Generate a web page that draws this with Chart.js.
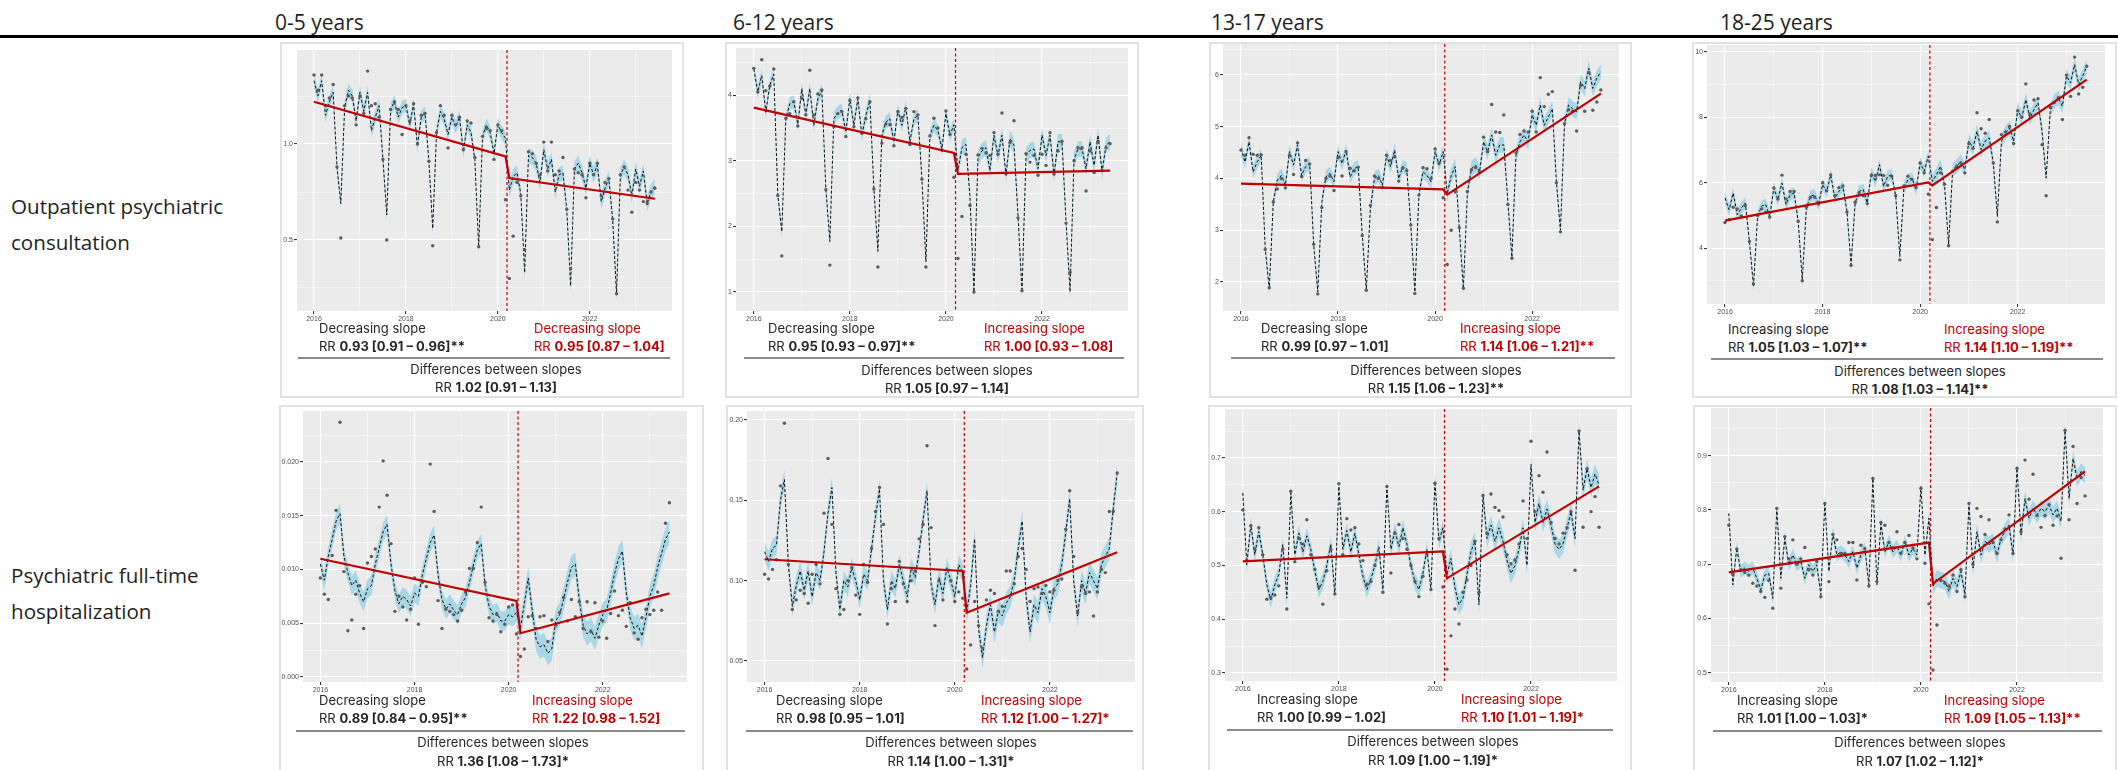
<!DOCTYPE html>
<html>
<head>
<meta charset="utf-8">
<script src="https://cdn.jsdelivr.net/npm/chart.js@4.4.1/dist/chart.umd.min.js"></script>
<style>
  body { margin: 0; background: #fff; width: 2118px; height: 770px; position: relative; overflow: hidden; font-family: "Open Sans", sans-serif; }
  .hdr { position: absolute; top: 8px; font-size: 21px; color: #1f1f1f; white-space: nowrap; }
  .rule { position: absolute; left: 0; top: 35px; width: 2118px; height: 3px; background: #000; }
  .rowlab { position: absolute; left: 11px; font-size: 20.6px; line-height: 36px; color: #1f1f1f; }
  .box { position: absolute; border: 2px solid #e2e2e2; box-sizing: border-box; }
  canvas { position: absolute; }
  .t { position: absolute; font-family: Inter, sans-serif; font-size: 13px; line-height: 18px; color: #262626; white-space: nowrap; }
  .t.red { color: #c00000; }
  .t.mid { transform: translateX(-50%); }
  .sep { position: absolute; height: 2px; background: #8a8a8a; }
</style>
</head>
<body>
<div class="hdr" style="left:275px">0-5 years</div>
<div class="hdr" style="left:733px">6-12 years</div>
<div class="hdr" style="left:1211px">13-17 years</div>
<div class="hdr" style="left:1720px">18-25 years</div>
<div class="rule"></div>
<div class="rowlab" style="top:188px">Outpatient psychiatric<br>consultation</div>
<div class="rowlab" style="top:557px">Psychiatric full-time<br>hospitalization</div>

<script>
// time axis: monthly rates, Jan 2016 - Jun 2023
var nMonths = 90;
var monthX = [];
for (var i = 0; i < nMonths; i++) monthX.push(2016 + i / 12);
var breakIndex = 51; // Apr 2020, first month of the post period
var interruptionX = 2020.2;
var trendX = [2016, 2020 + 2 / 12, 2020 + 3 / 12, 2023 + 5 / 12];
var xMajor = [2016, 2018, 2020, 2022];
var xMinor = [2017, 2019, 2021, 2023];
var xMin = 2015.63, xMax = 2023.79;

// ---------------- outpatient consultation, 0-5 years
var op05Fit = [
  1.33, 1.25, 1.33, 1.15, 1.22, 1.27, 0.88, 0.69, 1.19, 1.28, 1.25, 1.12,
  1.27, 1.17, 1.27, 1.07, 1.14, 1.20, 0.92, 0.63, 1.18, 1.22, 1.14, 1.19,
  1.20, 1.10, 1.21, 0.99, 1.14, 1.16, 0.91, 0.56, 1.06, 1.17, 1.13, 1.05,
  1.14, 1.09, 1.14, 0.96, 1.10, 1.06, 0.92, 0.46, 1.04, 1.10, 1.06, 0.95,
  1.10, 1.06, 1.03, 0.76, 0.83, 0.85, 0.74, 0.33, 0.94, 0.93, 0.90, 0.80,
  0.97, 0.87, 0.92, 0.75, 0.84, 0.85, 0.66, 0.26, 0.87, 0.90, 0.85, 0.77,
  0.90, 0.84, 0.89, 0.70, 0.77, 0.82, 0.60, 0.22, 0.84, 0.88, 0.84, 0.73,
  0.87, 0.78, 0.86, 0.69, 0.75, 0.78
];
var op05Obs = [
  1.36, 1.28, 1.36, 1.20, 1.24, 1.31, 0.88, 0.51, 1.20, 1.25, 1.24, 1.10,
  1.25, 1.16, 1.38, 1.20, 1.21, 1.14, 0.92, 0.50, 1.18, 1.22, 1.18, 1.05,
  1.20, 1.12, 1.21, 1.00, 1.15, 1.16, 0.91, 0.47, 1.06, 1.20, 1.15, 0.98,
  1.15, 1.10, 1.14, 0.97, 1.12, 1.11, 0.93, 0.465, 1.04, 1.08, 1.07, 0.92,
  1.10, 1.07, 0.71, 0.30, 0.52, 0.80, 0.73, 0.45, 0.96, 0.95, 0.90, 0.84,
  1.01, 0.86, 1.01, 0.84, 0.86, 0.93, 0.66, 0.35, 0.87, 0.85, 0.84, 0.72,
  0.90, 0.84, 0.90, 0.73, 0.80, 0.82, 0.61, 0.22, 0.84, 0.88, 0.76, 0.645,
  0.80, 0.76, 0.70, 0.69, 0.75, 0.77
];
var op05Ci = [0.035, 0.04];
var op05Trend = [1.22, 0.936, 0.823, 0.715];
var op05YRange = [0.13, 1.49];
var op05YMajor = [0.5, 1.0];
var op05YMinor = [0.25, 0.75, 1.25];
var op05YLabels = ["0.5", "1.0"];
var op05Notes = ["Decreasing slope", "0.93 [0.91 \u2013 0.96]**", "Decreasing slope", "0.95 [0.87 \u2013 1.04]", "1.02 [0.91 \u2013 1.13]"];

// ---------------- outpatient consultation, 6-12 years
var op612Fit = [
  4.40, 4.05, 4.30, 3.74, 4.15, 4.32, 2.48, 1.92, 3.64, 3.87, 3.90, 3.56,
  4.10, 3.70, 4.10, 3.54, 3.95, 4.07, 2.58, 1.77, 3.64, 3.74, 3.77, 3.44,
  3.95, 3.54, 3.95, 3.39, 3.69, 3.92, 2.58, 1.62, 3.39, 3.59, 3.64, 3.29,
  3.77, 3.54, 3.82, 3.29, 3.64, 3.69, 2.73, 1.46, 3.39, 3.54, 3.46, 3.18,
  3.72, 3.39, 3.55, 2.85, 3.20, 3.25, 2.45, 1.00, 3.05, 3.15, 3.20, 2.85,
  3.39, 3.08, 3.39, 2.78, 3.34, 3.24, 2.17, 1.00, 3.08, 3.16, 3.18, 2.88,
  3.39, 3.08, 3.39, 2.78, 3.29, 3.29, 2.07, 1.00, 3.03, 3.18, 3.18, 2.88,
  3.29, 2.93, 3.39, 2.83, 3.24, 3.29
];
var op612Obs = [
  4.41, 4.05, 4.54, 4.07, 4.14, 4.40, 2.47, 1.55, 3.65, 3.72, 3.90, 3.53,
  3.95, 3.70, 4.38, 3.70, 4.02, 4.08, 2.56, 1.41, 3.52, 3.72, 3.75, 3.37,
  3.92, 3.52, 3.96, 3.42, 3.64, 3.90, 2.57, 1.38, 3.27, 3.56, 3.55, 3.23,
  3.75, 3.66, 3.80, 3.25, 3.75, 3.70, 2.72, 1.38, 3.38, 3.65, 3.50, 3.16,
  3.76, 3.40, 2.75, 1.51, 2.15, 3.10, 2.32, 1.00, 3.09, 3.19, 3.12, 3.08,
  3.43, 3.10, 3.73, 2.80, 3.28, 3.61, 2.13, 1.02, 3.11, 2.98, 3.08, 2.78,
  3.10, 2.93, 3.43, 2.80, 3.15, 3.30, 2.05, 1.30, 3.00, 3.20, 3.20, 2.54,
  3.15, 2.82, 3.30, 2.85, 3.20, 3.26
];
var op612Ci = [0.1, 0.12];
var op612Trend = [3.81, 3.12, 2.80, 2.85];
var op612YRange = [0.71, 4.72];
var op612YMajor = [1, 2, 3, 4];
var op612YMinor = [1.5, 2.5, 3.5, 4.5];
var op612YLabels = ["1", "2", "3", "4"];
var op612Notes = ["Decreasing slope", "0.95 [0.93 \u2013 0.97]**", "Increasing slope", "1.00 [0.93 \u2013 1.08]", "1.05 [0.97 \u2013 1.14]"];

// ---------------- outpatient consultation, 13-17 years
var op1317Fit = [
  4.58, 4.32, 4.71, 4.13, 4.32, 4.45, 2.65, 1.87, 3.55, 3.97, 4.06, 3.87,
  4.52, 4.26, 4.65, 4.06, 4.23, 4.29, 2.71, 1.81, 3.55, 4.03, 4.10, 3.94,
  4.52, 4.29, 4.55, 4.03, 4.19, 4.23, 2.90, 1.84, 3.42, 4.00, 4.06, 3.87,
  4.45, 4.23, 4.55, 4.00, 4.23, 4.19, 3.10, 1.81, 3.68, 4.13, 4.06, 3.94,
  4.52, 4.26, 4.52, 3.70, 4.06, 4.23, 3.03, 1.87, 3.74, 4.19, 4.26, 4.13,
  4.71, 4.52, 4.84, 4.45, 4.65, 4.65, 3.55, 2.48, 4.45, 4.71, 4.84, 4.71,
  5.23, 5.03, 5.42, 5.03, 5.19, 5.35, 3.94, 3.00, 5.06, 5.42, 5.35, 5.29,
  5.87, 5.74, 6.13, 5.74, 5.94, 6.06
];
var op1317Obs = [
  4.55, 4.45, 4.79, 4.47, 4.45, 4.46, 2.63, 1.89, 3.55, 3.80, 4.00, 3.82,
  4.45, 4.08, 4.69, 4.04, 4.35, 4.28, 2.73, 1.77, 3.44, 4.00, 4.05, 3.77,
  4.40, 4.05, 4.52, 4.20, 4.15, 4.22, 2.90, 1.84, 3.48, 4.05, 4.00, 3.83,
  4.45, 4.35, 4.42, 3.95, 4.20, 4.15, 3.10, 1.78, 3.68, 4.21, 4.19, 4.00,
  4.57, 4.30, 3.63, 2.34, 3.00, 3.74, 3.05, 1.88, 3.75, 4.17, 4.21, 4.13,
  4.80, 4.52, 5.43, 4.90, 4.89, 5.23, 3.50, 2.46, 4.50, 4.85, 4.92, 4.90,
  5.30, 4.90, 5.95, 5.39, 5.63, 5.68, 3.92, 2.97, 5.06, 5.33, 5.30, 4.92,
  5.80, 5.30, 6.05, 5.32, 5.48, 5.71
];
var op1317Ci = [0.13, 0.15];
var op1317Trend = [3.90, 3.79, 3.69, 5.64];
var op1317YRange = [1.44, 6.6];
var op1317YMajor = [2, 3, 4, 5, 6];
var op1317YMinor = [2.5, 3.5, 4.5, 5.5, 6.5];
var op1317YLabels = ["2", "3", "4", "5", "6"];
var op1317Notes = ["Decreasing slope", "0.99 [0.97 \u2013 1.01]", "Increasing slope", "1.14 [1.06 \u2013 1.21]**", "1.15 [1.06 \u2013 1.23]**"];

// ---------------- outpatient consultation, 18-25 years
var op1825Fit = [
  5.53, 5.17, 5.68, 5.02, 5.22, 5.38, 4.20, 2.83, 4.97, 5.28, 5.33, 4.97,
  5.84, 5.48, 5.99, 5.33, 5.63, 5.68, 4.82, 3.03, 5.22, 5.58, 5.63, 5.33,
  5.94, 5.73, 6.24, 5.53, 5.73, 5.89, 5.12, 3.49, 5.38, 5.73, 5.79, 5.38,
  6.30, 6.04, 6.55, 5.89, 6.19, 6.24, 5.58, 3.74, 5.84, 6.09, 6.14, 5.79,
  6.60, 6.35, 6.81, 6.04, 6.24, 6.50, 5.94, 4.10, 6.40, 6.50, 6.65, 6.40,
  7.27, 7.06, 7.57, 7.01, 7.27, 7.37, 6.60, 4.97, 7.27, 7.52, 7.67, 7.27,
  8.23, 7.98, 8.54, 7.98, 8.23, 8.44, 7.57, 6.14, 8.18, 8.49, 8.59, 8.34,
  9.26, 9.05, 9.61, 9.00, 9.26, 9.56
];
var op1825Obs = [
  4.78, 4.87, 5.25, 5.20, 4.98, 5.30, 4.20, 2.90, 5.00, 5.20, 5.10, 4.95,
  5.84, 5.50, 6.23, 5.50, 5.73, 5.73, 4.82, 3.00, 5.25, 5.55, 5.56, 5.35,
  6.00, 5.75, 6.24, 5.60, 5.85, 5.90, 5.10, 3.47, 5.40, 5.70, 5.60, 5.36,
  6.22, 6.22, 6.24, 6.22, 5.92, 6.20, 5.60, 3.64, 5.90, 6.20, 6.10, 5.85,
  6.60, 6.30, 5.65, 4.26, 5.24, 6.30, 5.95, 4.07, 6.35, 6.50, 6.60, 6.30,
  7.20, 7.05, 8.14, 7.65, 7.51, 7.93, 6.60, 4.80, 7.47, 7.55, 7.72, 7.20,
  8.20, 8.00, 9.02, 8.10, 8.53, 8.57, 7.16, 5.60, 8.30, 8.45, 8.60, 7.93,
  9.29, 8.64, 9.84, 8.71, 8.92, 9.56
];
var op1825Ci = [0.18, 0.22];
var op1825Trend = [4.84, 6.01, 5.92, 9.15];
var op1825YRange = [2.29, 10.21];
var op1825YMajor = [4, 6, 8, 10];
var op1825YMinor = [3, 5, 7, 9];
var op1825YLabels = ["4", "6", "8", "10"];
var op1825Notes = ["Increasing slope", "1.05 [1.03 \u2013 1.07]**", "Increasing slope", "1.14 [1.10 \u2013 1.19]**", "1.08 [1.03 \u2013 1.14]**"];

// ---------------- full-time hospitalization, 0-5 years
var ho05Fit = [
  0.0105, 0.0090, 0.0112, 0.0128, 0.0145, 0.0152, 0.0112, 0.0097, 0.0085, 0.0090, 0.0078, 0.0070,
  0.0082, 0.0085, 0.0105, 0.0120, 0.0135, 0.0142, 0.0105, 0.0080, 0.0068, 0.0075, 0.0072, 0.0066,
  0.0078, 0.0075, 0.0095, 0.0110, 0.0125, 0.0132, 0.0095, 0.0072, 0.0063, 0.0068, 0.0062, 0.0058,
  0.0068, 0.0074, 0.0088, 0.0104, 0.0118, 0.0124, 0.0085, 0.0066, 0.0058, 0.0060, 0.0052, 0.0052,
  0.0058, 0.0056, 0.0060, 0.0045, 0.0068, 0.0092, 0.0062, 0.0035, 0.0028, 0.0030, 0.0022, 0.0026,
  0.0052, 0.0058, 0.0072, 0.0088, 0.0102, 0.0105, 0.0072, 0.0048, 0.0040, 0.0044, 0.0036, 0.0048,
  0.0058, 0.0062, 0.0078, 0.0096, 0.0110, 0.0117, 0.0078, 0.0055, 0.0045, 0.0048, 0.0038, 0.0055,
  0.0075, 0.0085, 0.0102, 0.0115, 0.0128, 0.0135
];
var ho05Obs = [
  0.0092, 0.0077, 0.0072, 0.0113, 0.0155, 0.0237, 0.0098, 0.0043, 0.0053, 0.0077, 0.0085, 0.0045,
  0.0106, 0.0112, 0.0119, 0.0158, 0.0201, 0.0169, 0.0124, 0.0061, 0.0075, 0.0065, 0.0053, 0.0063,
  0.0092, 0.0049, 0.0088, 0.0084, 0.0198, 0.0154, 0.0071, 0.0045, 0.0063, 0.0061, 0.0058, 0.0052,
  0.0062, 0.0079, 0.0101, 0.0101, 0.0125, 0.0158, 0.0088, 0.0055, 0.0052, 0.0058, 0.0042, 0.0049,
  0.0065, 0.0067, 0.0040, 0.0019, 0.0026, 0.0056, 0.0057, 0.0045, 0.0056, 0.0057, 0.0033, 0.0053,
  0.0048, 0.0060, 0.0074, 0.0052, 0.0072, 0.0056, 0.0070, 0.0045, 0.0070, 0.0042, 0.0069, 0.0037,
  0.0052, 0.0036, 0.0059, 0.0080, 0.0057, 0.0062, 0.0047, 0.0069, 0.0041, 0.0035, 0.0055, 0.0063,
  0.0058, 0.0062, 0.0079, 0.0062, 0.0143, 0.0162
];
var ho05Ci = [0.0009, 0.0011];
var ho05Trend = [0.0110, 0.00707, 0.00407, 0.00778];
var ho05YRange = [-0.00047, 0.02474];
var ho05YMajor = [0, 0.005, 0.01, 0.015, 0.02];
var ho05YMinor = [0.0025, 0.0075, 0.0125, 0.0175, 0.0225];
var ho05YLabels = ["0.000", "0.005", "0.010", "0.015", "0.020"];
var ho05Notes = ["Decreasing slope", "0.89 [0.84 \u2013 0.95]**", "Increasing slope", "1.22 [0.98 \u2013 1.52]", "1.36 [1.08 \u2013 1.73]*"];

// ---------------- full-time hospitalization, 6-12 years
var ho612Fit = [
  0.118, 0.112, 0.120, 0.122, 0.150, 0.163, 0.110, 0.084, 0.097, 0.106, 0.094, 0.106,
  0.090, 0.105, 0.100, 0.118, 0.142, 0.158, 0.105, 0.082, 0.100, 0.096, 0.108, 0.100,
  0.088, 0.104, 0.100, 0.120, 0.140, 0.157, 0.100, 0.082, 0.100, 0.095, 0.110, 0.100,
  0.090, 0.108, 0.102, 0.118, 0.138, 0.156, 0.098, 0.085, 0.102, 0.092, 0.108, 0.100,
  0.090, 0.110, 0.105, 0.080, 0.097, 0.126, 0.070, 0.052, 0.072, 0.085, 0.068, 0.081,
  0.078, 0.086, 0.090, 0.100, 0.120, 0.137, 0.090, 0.068, 0.085, 0.080, 0.095, 0.090,
  0.080, 0.095, 0.098, 0.110, 0.130, 0.151, 0.100, 0.078, 0.100, 0.092, 0.105, 0.100,
  0.095, 0.110, 0.115, 0.120, 0.145, 0.167
];
var ho612Obs = [
  0.104, 0.101, 0.107, 0.113, 0.159, 0.198, 0.110, 0.082, 0.088, 0.094, 0.092, 0.086,
  0.104, 0.110, 0.098, 0.142, 0.176, 0.135, 0.095, 0.079, 0.082, 0.100, 0.108, 0.091,
  0.079, 0.110, 0.099, 0.120, 0.143, 0.158, 0.135, 0.073, 0.095, 0.087, 0.112, 0.098,
  0.087, 0.100, 0.106, 0.126, 0.135, 0.184, 0.133, 0.072, 0.100, 0.088, 0.107, 0.100,
  0.087, 0.093, 0.089, 0.045, 0.060, 0.087, 0.072, 0.058, 0.088, 0.094, 0.092, 0.081,
  0.084, 0.106, 0.106, 0.098, 0.115, 0.120, 0.107, 0.087, 0.095, 0.096, 0.092, 0.097,
  0.093, 0.094, 0.100, 0.101, 0.132, 0.156, 0.115, 0.080, 0.096, 0.092, 0.093, 0.078,
  0.093, 0.107, 0.105, 0.143, 0.143, 0.167
];
var ho612Ci = [0.006, 0.007];
var ho612Trend = [0.1133, 0.106, 0.080, 0.1177];
var ho612YRange = [0.0369, 0.2056];
var ho612YMajor = [0.05, 0.1, 0.15, 0.2];
var ho612YMinor = [0.075, 0.125, 0.175];
var ho612YLabels = ["0.05", "0.10", "0.15", "0.20"];
var ho612Notes = ["Decreasing slope", "0.98 [0.95 \u2013 1.01]", "Increasing slope", "1.12 [1.00 \u2013 1.27]*", "1.14 [1.00 \u2013 1.31]*"];

// ---------------- full-time hospitalization, 13-17 years
var ho1317Fit = [
  0.635, 0.501, 0.576, 0.520, 0.563, 0.520, 0.464, 0.436, 0.464, 0.483, 0.539, 0.439,
  0.635, 0.520, 0.560, 0.525, 0.555, 0.530, 0.490, 0.455, 0.470, 0.500, 0.540, 0.445,
  0.647, 0.530, 0.565, 0.525, 0.560, 0.520, 0.480, 0.455, 0.475, 0.500, 0.535, 0.455,
  0.647, 0.530, 0.565, 0.535, 0.570, 0.540, 0.500, 0.470, 0.455, 0.485, 0.530, 0.455,
  0.656, 0.545, 0.570, 0.483, 0.513, 0.458, 0.427, 0.439, 0.483, 0.526, 0.545, 0.427,
  0.632, 0.550, 0.575, 0.545, 0.570, 0.545, 0.510, 0.485, 0.500, 0.530, 0.570, 0.500,
  0.688, 0.580, 0.615, 0.580, 0.605, 0.575, 0.540, 0.530, 0.540, 0.570, 0.600, 0.550,
  0.750, 0.640, 0.680, 0.645, 0.670, 0.650
];
var ho1317Obs = [
  0.603, 0.510, 0.574, 0.530, 0.570, 0.520, 0.437, 0.440, 0.445, 0.462, 0.530, 0.419,
  0.638, 0.507, 0.550, 0.540, 0.585, 0.520, 0.493, 0.460, 0.428, 0.490, 0.530, 0.447,
  0.652, 0.520, 0.587, 0.566, 0.570, 0.540, 0.509, 0.465, 0.470, 0.500, 0.520, 0.450,
  0.647, 0.486, 0.560, 0.576, 0.550, 0.530, 0.500, 0.470, 0.442, 0.480, 0.520, 0.455,
  0.653, 0.550, 0.460, 0.307, 0.369, 0.419, 0.391, 0.450, 0.473, 0.500, 0.545, 0.450,
  0.630, 0.560, 0.633, 0.608, 0.602, 0.590, 0.520, 0.503, 0.510, 0.540, 0.620, 0.550,
  0.731, 0.600, 0.667, 0.636, 0.711, 0.580, 0.550, 0.540, 0.560, 0.570, 0.600, 0.491,
  0.750, 0.571, 0.680, 0.600, 0.628, 0.571
];
var ho1317Ci = [0.015, 0.018];
var ho1317Trend = [0.5075, 0.526, 0.476, 0.647];
var ho1317YRange = [0.285, 0.791];
var ho1317YMajor = [0.3, 0.4, 0.5, 0.6, 0.7];
var ho1317YMinor = [0.35, 0.45, 0.55, 0.65, 0.75];
var ho1317YLabels = ["0.3", "0.4", "0.5", "0.6", "0.7"];
var ho1317Notes = ["Increasing slope", "1.00 [0.99 \u2013 1.02]", "Increasing slope", "1.10 [1.01 \u2013 1.19]*", "1.09 [1.00 \u2013 1.19]*"];

// ---------------- full-time hospitalization, 18-25 years
var ho1825Fit = [
  0.794, 0.662, 0.730, 0.687, 0.693, 0.687, 0.693, 0.674, 0.653, 0.680, 0.683, 0.637,
  0.803, 0.674, 0.748, 0.699, 0.717, 0.699, 0.705, 0.674, 0.699, 0.687, 0.699, 0.644,
  0.815, 0.687, 0.757, 0.717, 0.723, 0.717, 0.705, 0.723, 0.693, 0.717, 0.729, 0.662,
  0.858, 0.662, 0.775, 0.723, 0.742, 0.723, 0.733, 0.717, 0.742, 0.717, 0.729, 0.717,
  0.843, 0.717, 0.785, 0.659, 0.674, 0.671, 0.668, 0.650, 0.674, 0.659, 0.687, 0.644,
  0.812, 0.693, 0.760, 0.717, 0.742, 0.736, 0.742, 0.717, 0.748, 0.760, 0.772, 0.717,
  0.877, 0.754, 0.821, 0.785, 0.803, 0.791, 0.803, 0.797, 0.809, 0.791, 0.803, 0.779,
  0.947, 0.821, 0.895, 0.858, 0.871, 0.864
];
var ho1825Obs = [
  0.772, 0.682, 0.728, 0.690, 0.685, 0.680, 0.665, 0.660, 0.650, 0.639, 0.670, 0.619,
  0.803, 0.656, 0.751, 0.710, 0.745, 0.700, 0.710, 0.731, 0.690, 0.680, 0.705, 0.640,
  0.812, 0.668, 0.755, 0.745, 0.720, 0.720, 0.740, 0.740, 0.671, 0.735, 0.729, 0.660,
  0.858, 0.668, 0.777, 0.772, 0.740, 0.730, 0.760, 0.720, 0.740, 0.753, 0.730, 0.710,
  0.840, 0.702, 0.627, 0.505, 0.588, 0.670, 0.665, 0.660, 0.680, 0.650, 0.690, 0.640,
  0.812, 0.700, 0.803, 0.788, 0.755, 0.782, 0.740, 0.720, 0.745, 0.765, 0.791, 0.720,
  0.877, 0.760, 0.892, 0.820, 0.866, 0.790, 0.768, 0.790, 0.810, 0.772, 0.789, 0.711,
  0.947, 0.782, 0.917, 0.812, 0.860, 0.826
];
var ho1825Ci = [0.012, 0.015];
var ho1825Trend = [0.685, 0.740, 0.664, 0.871];
var ho1825YRange = [0.483, 0.988];
var ho1825YMajor = [0.5, 0.6, 0.7, 0.8, 0.9];
var ho1825YMinor = [0.55, 0.65, 0.75, 0.85, 0.95];
var ho1825YLabels = ["0.5", "0.6", "0.7", "0.8", "0.9"];
var ho1825Notes = ["Increasing slope", "1.01 [1.00 \u2013 1.03]*", "Increasing slope", "1.09 [1.05 \u2013 1.13]**", "1.07 [1.02 \u2013 1.12]*"];

// ************************************************************
// panel placement on the page (box, plot area, note positions)

var panels = [
  { fit: op05Fit, obs: op05Obs, ci: op05Ci, trend: op05Trend, yRange: op05YRange, yMajor: op05YMajor, yMinor: op05YMinor, yLabels: op05YLabels, notes: op05Notes,
    box: [280, 42, 684, 398], plot: [297, 50, 672, 311], bx: 319, rx: 534, ty: [328, 346, 358, 369, 387], sep: [298, 670], cx: 496 },
  { fit: op612Fit, obs: op612Obs, ci: op612Ci, trend: op612Trend, yRange: op612YRange, yMajor: op612YMajor, yMinor: op612YMinor, yLabels: op612YLabels, notes: op612Notes,
    box: [725, 42, 1139, 398], plot: [736, 48, 1128, 311], bx: 768, rx: 984, ty: [328, 346, 358, 370, 388], sep: [744, 1124], cx: 947 },
  { fit: op1317Fit, obs: op1317Obs, ci: op1317Ci, trend: op1317Trend, yRange: op1317YRange, yMajor: op1317YMajor, yMinor: op1317YMinor, yLabels: op1317YLabels, notes: op1317Notes,
    box: [1209, 42, 1632, 398], plot: [1223, 44, 1619, 311], bx: 1261, rx: 1460, ty: [328, 346, 358, 370, 388], sep: [1231, 1615], cx: 1436 },
  { fit: op1825Fit, obs: op1825Obs, ci: op1825Ci, trend: op1825Trend, yRange: op1825YRange, yMajor: op1825YMajor, yMinor: op1825YMinor, yLabels: op1825YLabels, notes: op1825Notes,
    box: [1692, 42, 2117, 398], plot: [1707, 45, 2105, 304], bx: 1728, rx: 1944, ty: [329, 347, 359, 371, 389], sep: [1711, 2103], cx: 1920 },
  { fit: ho05Fit, obs: ho05Obs, ci: ho05Ci, trend: ho05Trend, yRange: ho05YRange, yMajor: ho05YMajor, yMinor: ho05YMinor, yLabels: ho05YLabels, notes: ho05Notes,
    box: [279, 405, 704, 774], plot: [303, 411, 687, 682], bx: 319, rx: 532, ty: [700, 718, 731, 742, 761], sep: [296, 685], cx: 503 },
  { fit: ho612Fit, obs: ho612Obs, ci: ho612Ci, trend: ho612Trend, yRange: ho612YRange, yMajor: ho612YMajor, yMinor: ho612YMinor, yLabels: ho612YLabels, notes: ho612Notes,
    box: [726, 405, 1144, 774], plot: [747, 411, 1135, 682], bx: 776, rx: 981, ty: [700, 718, 731, 742, 761], sep: [746, 1133], cx: 951 },
  { fit: ho1317Fit, obs: ho1317Obs, ci: ho1317Ci, trend: ho1317Trend, yRange: ho1317YRange, yMajor: ho1317YMajor, yMinor: ho1317YMinor, yLabels: ho1317YLabels, notes: ho1317Notes,
    box: [1208, 405, 1632, 774], plot: [1225, 409, 1617, 681], bx: 1257, rx: 1461, ty: [699, 717, 730, 741, 760], sep: [1227, 1613], cx: 1433 },
  { fit: ho1825Fit, obs: ho1825Obs, ci: ho1825Ci, trend: ho1825Trend, yRange: ho1825YRange, yMajor: ho1825YMajor, yMinor: ho1825YMinor, yLabels: ho1825YLabels, notes: ho1825Notes,
    box: [1693, 405, 2117, 774], plot: [1711, 408, 2103, 682], bx: 1737, rx: 1944, ty: [700, 718, 731, 742, 761], sep: [1713, 2102], cx: 1920 }
];

var YW = 30, PAD = 6, XH = 14;

// grey ggplot-like panel background
var panelBg = {
  id: "panelBg",
  beforeDraw: function (chart) {
    var a = chart.chartArea, ctx = chart.ctx;
    ctx.save();
    ctx.fillStyle = "#ebebeb";
    ctx.fillRect(a.left, a.top, a.right - a.left, a.bottom - a.top);
    ctx.restore();
  }
};

// dashed red line at the interruption date
var interruptLine = {
  id: "interruptLine",
  beforeDatasetsDraw: function (chart) {
    var a = chart.chartArea, ctx = chart.ctx;
    var px = chart.scales.x.getPixelForValue(interruptionX);
    ctx.save();
    ctx.strokeStyle = "#c00000";
    ctx.lineWidth = 1.2;
    ctx.setLineDash([3, 2.5]);
    ctx.beginPath();
    ctx.moveTo(px, a.top);
    ctx.lineTo(px, a.bottom);
    ctx.stroke();
    ctx.restore();
  }
};

function el(cls, style, html) {
  var d = document.createElement("div");
  d.className = cls;
  d.style.cssText = style;
  if (html) d.innerHTML = html;
  document.body.appendChild(d);
  return d;
}

function pts(xs, ys) {
  return ys.map(function (v, i) { return { x: xs[i], y: v }; });
}

function isIn(list, v) {
  return list.some(function (m) { return Math.abs(m - v) < 1e-9; });
}

panels.forEach(function (p) {
  var b = p.box;
  el("box", "left:" + b[0] + "px;top:" + b[1] + "px;width:" + (b[2] - b[0]) + "px;height:" + (b[3] - b[1]) + "px");

  var L = p.plot[0], T = p.plot[1], R = p.plot[2], B = p.plot[3];
  var cv = document.createElement("canvas");
  cv.width = (R - L) + YW + PAD;
  cv.height = (B - T) + PAD + XH;
  cv.style.left = (L - YW) + "px";
  cv.style.top = (T - PAD) + "px";
  cv.style.width = cv.width + "px";
  cv.style.height = cv.height + "px";
  document.body.appendChild(cv);

  var upper = p.fit.map(function (v, i) { return v + p.ci[i < breakIndex ? 0 : 1]; });
  var lower = p.fit.map(function (v, i) { return v - p.ci[i < breakIndex ? 0 : 1]; });
  var yTicks = p.yMajor.concat(p.yMinor).filter(function (v) { return v >= p.yRange[0] && v <= p.yRange[1]; }).sort(function (a, c) { return a - c; });
  var xTicks = xMajor.concat(xMinor).sort(function (a, c) { return a - c; });

  new Chart(cv.getContext("2d"), {
    type: "scatter",
    data: {
      datasets: [
        { data: pts(monthX, upper), showLine: true, borderWidth: 0, pointRadius: 0, fill: "+1", backgroundColor: "rgba(167,214,230,0.95)", order: 6 },
        { data: pts(monthX, lower), showLine: true, borderWidth: 0, pointRadius: 0, fill: false, order: 6 },
        { data: pts(monthX, p.fit), showLine: true, borderColor: "#111", borderWidth: 1, borderDash: [3, 2], pointRadius: 0, order: 4 },
        { data: pts(monthX, p.obs), showLine: false, pointRadius: 1.7, pointBackgroundColor: "#5c5c5c", pointBorderWidth: 0, order: 3 },
        { data: pts(trendX, p.trend), showLine: true, borderColor: "#c00000", borderWidth: 2.2, pointRadius: 0, order: 1 }
      ]
    },
    options: {
      responsive: false,
      animation: false,
      events: [],
      layout: { padding: { top: PAD, right: PAD, left: 0, bottom: 0 } },
      plugins: { legend: { display: false }, tooltip: { enabled: false } },
      scales: {
        x: {
          type: "linear",
          min: xMin,
          max: xMax,
          afterBuildTicks: function (s) { s.ticks = xTicks.map(function (v) { return { value: v }; }); },
          afterFit: function (s) { s.height = XH; },
          border: { display: false },
          grid: {
            color: "#ffffff",
            lineWidth: function (c) { return c.tick && isIn(xMajor, c.tick.value) ? 1.1 : 0.5; },
            tickLength: 3,
            tickColor: function (c) { return c.tick && isIn(xMajor, c.tick.value) ? "#333" : "rgba(0,0,0,0)"; }
          },
          ticks: {
            autoSkip: false,
            maxRotation: 0,
            padding: 1,
            color: "#4d4d4d",
            font: { family: "Liberation Sans", size: 7 },
            callback: function (v) { return isIn(xMajor, v) ? String(v) : ""; }
          }
        },
        y: {
          min: p.yRange[0],
          max: p.yRange[1],
          afterBuildTicks: function (s) { s.ticks = yTicks.map(function (v) { return { value: v }; }); },
          afterFit: function (s) { s.width = YW; },
          border: { display: false },
          grid: {
            color: "#ffffff",
            lineWidth: function (c) { return c.tick && isIn(p.yMajor, c.tick.value) ? 1.1 : 0.5; },
            tickLength: 3,
            tickColor: function (c) { return c.tick && isIn(p.yMajor, c.tick.value) ? "#333" : "rgba(0,0,0,0)"; }
          },
          ticks: {
            autoSkip: false,
            padding: 1,
            color: "#4d4d4d",
            font: { family: "Liberation Sans", size: 7 },
            callback: function (v) {
              for (var k = 0; k < p.yMajor.length; k++) {
                if (Math.abs(p.yMajor[k] - v) < 1e-9) return p.yLabels[k];
              }
              return "";
            }
          }
        }
      }
    },
    plugins: [panelBg, interruptLine]
  });

  // slope notes under the panel
  var n = p.notes, ty = p.ty;
  el("t", "left:" + p.bx + "px;top:" + (ty[0] - 9) + "px", n[0]);
  el("t", "left:" + p.bx + "px;top:" + (ty[1] - 9) + "px", "RR <b>" + n[1] + "</b>");
  el("t red", "left:" + p.rx + "px;top:" + (ty[0] - 9) + "px", n[2]);
  el("t red", "left:" + p.rx + "px;top:" + (ty[1] - 9) + "px", "RR <b>" + n[3] + "</b>");
  el("sep", "left:" + p.sep[0] + "px;top:" + (ty[2] - 1) + "px;width:" + (p.sep[1] - p.sep[0]) + "px");
  el("t mid", "left:" + p.cx + "px;top:" + (ty[3] - 9) + "px", "Differences between slopes");
  el("t mid", "left:" + p.cx + "px;top:" + (ty[4] - 9) + "px", "RR <b>" + n[4] + "</b>");
});
</script>
</body>
</html>
